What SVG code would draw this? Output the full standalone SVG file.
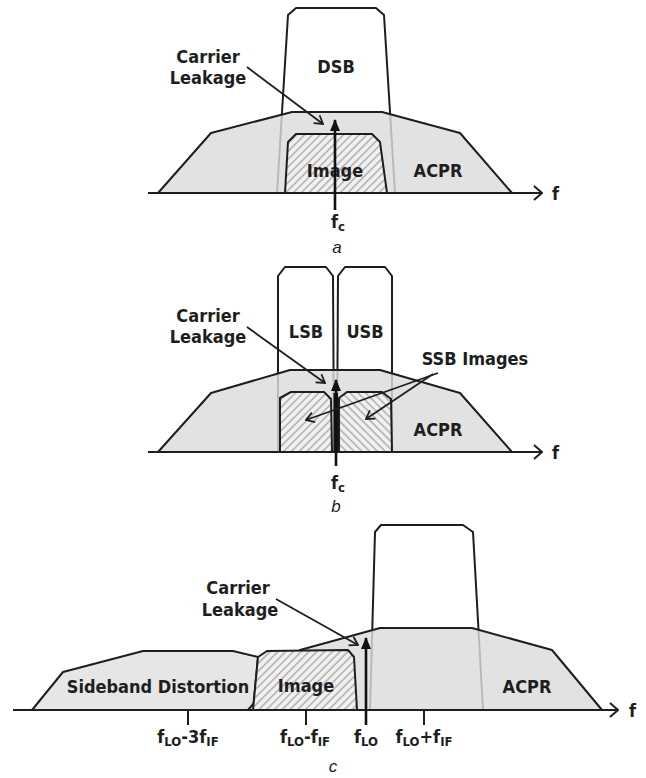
<svg xmlns="http://www.w3.org/2000/svg" width="646" height="778" viewBox="0 0 646 778">
<defs>
<style>
.t{font-family:"DejaVu Sans Condensed","DejaVu Sans",sans-serif;font-stretch:condensed;font-weight:bold;font-size:18px;fill:#1e1e1e}
.m{text-anchor:middle}
.it{font-family:"Liberation Sans",Arial,sans-serif;font-style:italic;font-size:17px;fill:#1e1e1e;text-anchor:middle}
.ln{fill:none;stroke:#1e1e1e;stroke-width:2;stroke-linejoin:round}
.box{fill:#ffffff;stroke:#1e1e1e;stroke-width:2;stroke-linejoin:round}
.acpr{fill:#dcdcdc;fill-opacity:0.82;stroke:#1e1e1e;stroke-width:2;stroke-linejoin:round}
.sd{fill:#e6e6e6;stroke:#1e1e1e;stroke-width:2;stroke-linejoin:round}
.hr{fill:url(#hatchR);stroke:#1e1e1e;stroke-width:2;stroke-linejoin:round}
.hl{fill:url(#hatchL);stroke:#1e1e1e;stroke-width:2;stroke-linejoin:round}
.ax{fill:none;stroke:#1e1e1e;stroke-width:2;marker-end:url(#axArrow)}
.call{fill:none;stroke:#1e1e1e;stroke-width:1.8;marker-end:url(#openArrow)}
.car{fill:none;stroke:#111;stroke-width:2.6;marker-end:url(#triArrow)}
.tick{stroke:#1e1e1e;stroke-width:2}
</style>
<pattern id="hatchR" width="5.5" height="5.5" patternUnits="userSpaceOnUse" patternTransform="rotate(45)">
<rect width="5.5" height="5.5" fill="#f1f1f1"/>
<line x1="2.75" y1="0" x2="2.75" y2="5.5" stroke="#8c8c8c" stroke-width="1"/>
</pattern>
<pattern id="hatchL" width="5.5" height="5.5" patternUnits="userSpaceOnUse" patternTransform="rotate(-45)">
<rect width="5.5" height="5.5" fill="#f1f1f1"/>
<line x1="2.75" y1="0" x2="2.75" y2="5.5" stroke="#8c8c8c" stroke-width="1"/>
</pattern>
<marker id="axArrow" viewBox="0 0 10 16" refX="9" refY="8" markerWidth="10" markerHeight="16" markerUnits="userSpaceOnUse" orient="auto">
<path d="M1,1 L9,8 L1,15" fill="none" stroke="#1e1e1e" stroke-width="2"/>
</marker>
<marker id="openArrow" viewBox="0 0 10 12" refX="9" refY="6" markerWidth="10" markerHeight="12" markerUnits="userSpaceOnUse" orient="auto">
<path d="M1,1 L9,6 L1,11" fill="none" stroke="#1e1e1e" stroke-width="1.8"/>
</marker>
<marker id="triArrow" viewBox="0 0 12 10" refX="11" refY="5" markerWidth="12" markerHeight="10" markerUnits="userSpaceOnUse" orient="auto">
<path d="M0,0 L12,5 L0,10 Z" fill="#111"/>
</marker>
</defs>
<rect width="646" height="778" fill="#ffffff"/>

<!-- Panel a -->
<g id="a-dsb"><path class="box" d="M277,193 L288,15 L296,8 L376,8 L384,15 L395,193"/><text class="t m" x="336" y="73">DSB</text></g>
<g id="a-acpr"><polygon class="acpr" points="158,193 211,133 292,112 382,112 460,133 512,193"/><text class="t m" x="438" y="177">ACPR</text></g>
<g id="a-image"><path class="hr" d="M285,193 L288,142 L296,134 L372,134 L380,142 L387,193 Z"/><text class="t m" x="335" y="177">Image</text></g>
<g id="a-carrier-label"><text class="t m" x="208" y="63">Carrier</text><text class="t m" x="208" y="84">Leakage</text></g>
<g id="a-fc"><text class="t" x="331" y="228">f<tspan font-size="13" dy="3">c</tspan></text></g>
<g id="a-caption"><text class="it" x="337" y="253">a</text></g>
<g id="a-f"><text class="t" x="552" y="200">f</text></g>

<!-- Panel b -->
<g id="b-lsb"><path class="box" d="M278,452 L278,276 L285,267 L326,267 L333,276 L334,452"/><text class="t m" x="306" y="338">LSB</text></g>
<g id="b-usb"><path class="box" d="M337,452 L338,276 L345,267 L385,267 L392,276 L392,452"/><text class="t m" x="365" y="338">USB</text></g>
<g id="b-acpr"><polygon class="acpr" points="158,452 211,393 290,370 380,370 460,393 512,452"/><text class="t m" x="438" y="436">ACPR</text></g>
<g id="b-image-l"><path class="hr" d="M280,452 L280,398 L291,392 L324,392 L331,399 L332,452 Z"/></g>
<g id="b-image-r"><path class="hl" d="M339,452 L339,398 L347,392 L382,392 L391,399 L392,452 Z"/></g>
<g id="b-ssb-label"><text class="t m" x="475" y="365">SSB Images</text></g>
<g id="b-carrier-label"><text class="t m" x="208" y="322">Carrier</text><text class="t m" x="208" y="343">Leakage</text></g>
<g id="b-fc"><text class="t" x="331" y="489">f<tspan font-size="13" dy="3">c</tspan></text></g>
<g id="b-caption"><text class="it" x="336" y="512">b</text></g>
<g id="b-f"><text class="t" x="552" y="459">f</text></g>

<!-- Panel c -->
<g id="c-main"><path class="box" d="M370,710 L375,532 L381,525 L463,525 L473,532 L483,710"/></g>
<g id="c-sideband"><path class="sd" d="M32,710 L63,672 L143,651 L233,651 L258,657 L253,710 Z"/><text class="t m" x="158" y="693">Sideband Distortion</text></g>
<g id="c-acpr"><polygon class="acpr" points="248,710 300,650 380,628 472,628 552,650 602,710"/><text class="t m" x="527" y="693">ACPR</text></g>
<g id="c-image"><path class="hr" d="M253,710 L258,657 L267,651 L348,650 L354,657 L357,710 Z"/><text class="t m" x="306" y="692">Image</text></g>
<g id="c-carrier-label"><text class="t m" x="238" y="594">Carrier</text><text class="t m" x="240" y="616">Leakage</text></g>
<g id="c-ticklabels">
<text class="t m" x="188" y="743">f<tspan font-size="13" dy="3">LO</tspan><tspan dy="-3">-3f</tspan><tspan font-size="13" dy="3">IF</tspan></text>
<text class="t m" x="305" y="743">f<tspan font-size="13" dy="3">LO</tspan><tspan dy="-3">-f</tspan><tspan font-size="13" dy="3">IF</tspan></text>
<text class="t m" x="366" y="743">f<tspan font-size="13" dy="3">LO</tspan></text>
<text class="t m" x="424" y="743">f<tspan font-size="13" dy="3">LO</tspan><tspan dy="-3">+f</tspan><tspan font-size="13" dy="3">IF</tspan></text>
</g>
<g id="c-caption"><text class="it" x="333" y="772">c</text></g>
<g id="c-f"><text class="t" x="629" y="717">f</text></g>

<!-- Connectors -->
<g id="connectors">
<line class="ax" x1="148" y1="193" x2="542" y2="193"/>
<line class="call" x1="247" y1="67" x2="323" y2="124"/>
<line class="car" x1="335" y1="210" x2="335" y2="120"/>

<line class="ax" x1="148" y1="452" x2="542" y2="452"/>
<line class="call" x1="247" y1="327" x2="325" y2="383"/>
<rect x="333.5" y="393" width="4.5" height="59" fill="#111"/>
<line class="car" x1="336" y1="466" x2="336" y2="380"/>
<line class="call" x1="438" y1="373" x2="306" y2="420"/>
<line class="call" x1="433" y1="374" x2="366" y2="419"/>

<line class="ax" x1="13" y1="710" x2="618" y2="710"/>
<line class="tick" x1="188" y1="710" x2="188" y2="725"/>
<line class="tick" x1="306" y1="710" x2="306" y2="725"/>
<line class="tick" x1="424" y1="710" x2="424" y2="725"/>
<line class="call" x1="276" y1="599" x2="358" y2="645"/>
<line class="car" x1="366" y1="725" x2="366" y2="638"/>
</g>
</svg>
